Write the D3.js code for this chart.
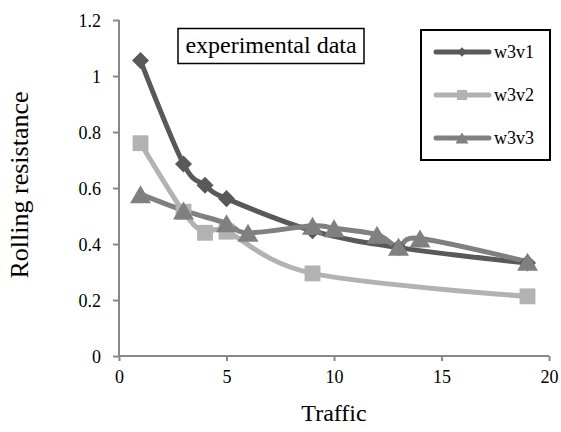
<!DOCTYPE html>
<html><head><meta charset="utf-8">
<script src="https://cdn.jsdelivr.net/npm/d3@7"></script>
<style>body{margin:0;background:#fff}svg{display:block}</style>
</head><body><svg id="c" width="561" height="432"></svg>
<script>
const seriesNames = ["w3v1", "w3v2", "w3v3"];
const w3v1X = [1, 3, 4, 5, 9, 13, 19];
const w3v1Y = [1.055, 0.686, 0.61, 0.562, 0.447, 0.387, 0.332];
const w3v2X = [1, 3, 4, 5, 9, 19];
const w3v2Y = [0.76, 0.515, 0.44, 0.444, 0.295, 0.213];
const w3v3X = [1, 3, 5, 6, 9, 10, 12, 13, 14, 19];
const w3v3Y = [0.578, 0.52, 0.474, 0.44, 0.465, 0.456, 0.433, 0.39, 0.42, 0.337];
const xTicks = [0, 5, 10, 15, 20];
const yTicks = [0, 0.2, 0.4, 0.6, 0.8, 1, 1.2];
const yTickLabels = ["0", "0.2", "0.4", "0.6", "0.8", "1", "1.2"];
const xTitle = "Traffic", yTitle = "Rolling resistance", note = "experimental data";

const FONT = '"Liberation Serif", "Times New Roman", serif';
const colors = {w3v1: "#595959", w3v2: "#b2b2b2", w3v3: "#808080"};
function triangle(w, h) {
  return {draw(ctx) { ctx.moveTo(0, -h/2); ctx.lineTo(w/2, h/2); ctx.lineTo(-w/2, h/2); ctx.closePath(); }};
}
const markerPath = {
  w3v1: d3.symbol().type(d3.symbolDiamond2).size(185)(),
  w3v2: d3.symbol().type(d3.symbolSquare2).size(320)(),
  w3v3: d3.symbol().type(triangle(21, 18))()
};
const legendPath = {
  w3v1: d3.symbol().type(d3.symbolDiamond2).size(55)(),
  w3v2: d3.symbol().type(d3.symbolSquare2).size(130)(),
  w3v3: d3.symbol().type(triangle(13, 11))()
};
const series = [
  {name: "w3v1", pts: w3v1X.map((x,i)=>[x, w3v1Y[i]])},
  {name: "w3v2", pts: w3v2X.map((x,i)=>[x, w3v2Y[i]])},
  {name: "w3v3", pts: w3v3X.map((x,i)=>[x, w3v3Y[i]])}
];

const svg = d3.select("#c");
const x = d3.scaleLinear().domain([0, 20]).range([119, 549]);
const y = d3.scaleLinear().domain([0, 1.2]).range([356, 20]);
const axisColor = "#888";

const gx = svg.append("g").attr("transform", "translate(0,356)")
  .call(d3.axisBottom(x).tickValues(xTicks).tickSize(5).tickPadding(7));
const gy = svg.append("g").attr("transform", "translate(119,0)")
  .call(d3.axisLeft(y).tickValues(yTicks).tickFormat((d,i)=>yTickLabels[i]).tickSize(6).tickPadding(12));
[gx, gy].forEach(g => {
  g.attr("font-family", FONT).attr("font-size", 18);
  g.select(".domain").attr("stroke", axisColor).attr("stroke-width", 2);
  g.selectAll(".tick line").attr("stroke", axisColor).attr("stroke-width", 2);
  g.selectAll(".tick text").attr("font-family", FONT).attr("font-size", 18).attr("fill", "#000");
});
gx.select(".domain").attr("d", "M119,0H549");
gy.select(".domain").attr("d", "M0,20V356");
gy.selectAll(".tick text").attr("dy", "0.34em");
gx.selectAll(".tick text").attr("dy", "0.85em");

svg.append("text").attr("x", 334).attr("y", 421).attr("text-anchor", "middle")
  .attr("font-family", FONT).attr("font-size", 24).text(xTitle);
svg.append("text").attr("transform", "translate(28,185) rotate(-90)").attr("text-anchor", "middle")
  .attr("font-family", FONT).attr("font-size", 26).text(yTitle);

const line = d3.line().x(d=>x(d[0])).y(d=>y(d[1])).curve(d3.curveCatmullRom.alpha(0));
series.forEach(s => {
  svg.append("path").attr("d", line(s.pts)).attr("fill", "none").attr("stroke", colors[s.name])
    .attr("stroke-width", 5).attr("stroke-linejoin", "round").attr("stroke-linecap", "round");
});
series.forEach(s => {
  svg.append("g").selectAll("path").data(s.pts).join("path")
    .attr("transform", d => `translate(${x(d[0])},${y(d[1])})`)
    .attr("d", markerPath[s.name]).attr("fill", colors[s.name]);
});

// note box
svg.append("rect").attr("x", 178).attr("y", 28.5).attr("width", 186).attr("height", 35)
  .attr("fill", "#fff").attr("stroke", "#000").attr("stroke-width", 1.5);
svg.append("text").attr("x", 271).attr("y", 53).attr("text-anchor", "middle")
  .attr("font-family", FONT).attr("font-size", 24).text(note);

// legend
svg.append("rect").attr("x", 421).attr("y", 30).attr("width", 129).attr("height", 130)
  .attr("fill", "#fff").attr("stroke", "#000").attr("stroke-width", 2);
seriesNames.forEach((n, i) => {
  const ly = 52 + i * 43;
  svg.append("line").attr("x1", 436).attr("x2", 489).attr("y1", ly).attr("y2", ly)
    .attr("stroke", colors[n]).attr("stroke-width", 5).attr("stroke-linecap", "round");
  svg.append("path").attr("transform", `translate(462,${ly})`).attr("d", legendPath[n]).attr("fill", colors[n]);
  svg.append("text").attr("x", 494).attr("y", ly + 6).attr("font-family", FONT).attr("font-size", 18).text(n);
});
</script></body></html>
